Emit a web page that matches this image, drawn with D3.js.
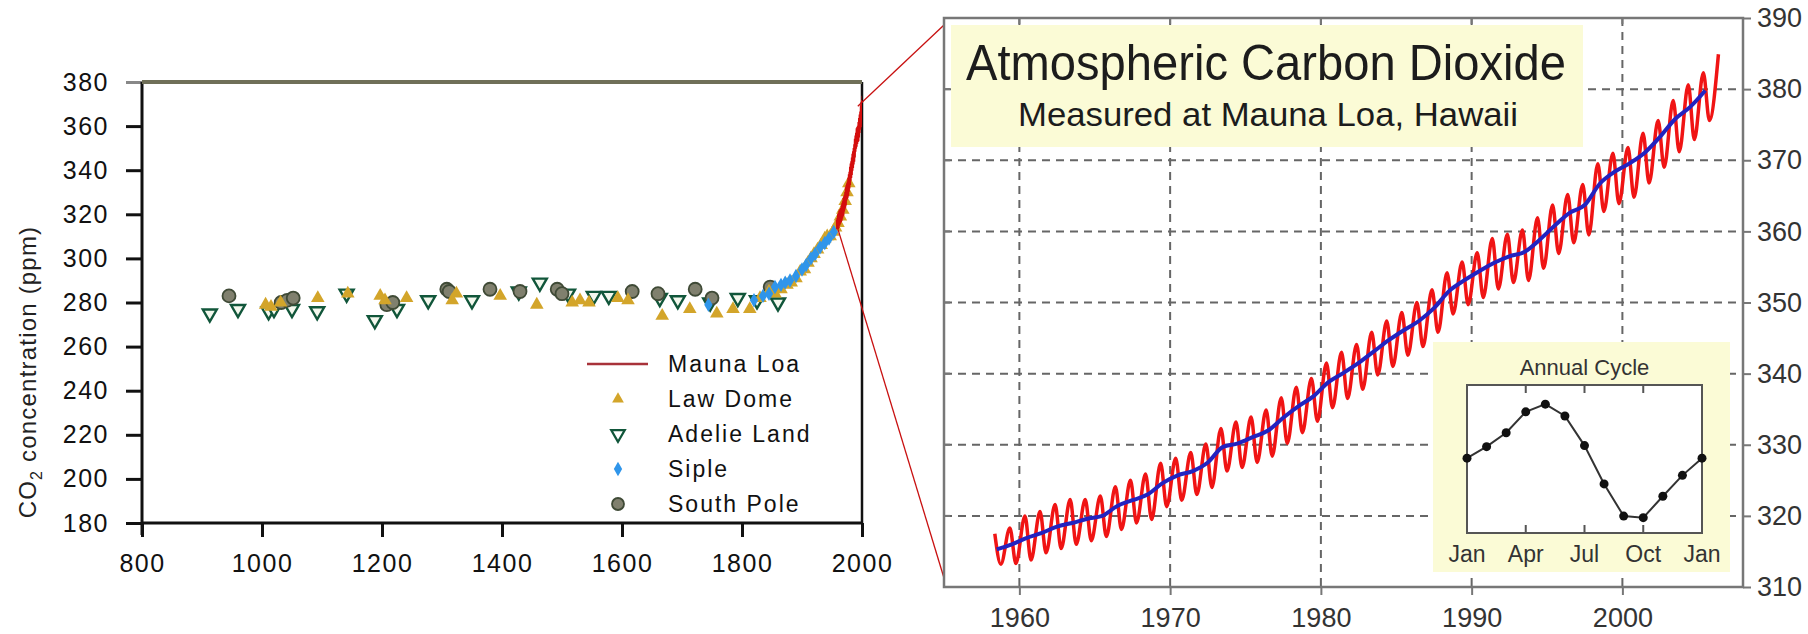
<!DOCTYPE html>
<html lang="en">
<head>
<meta charset="UTF-8">
<title>Atmospheric Carbon Dioxide</title>
<style>
    body { margin: 0; background: #fff; }
    svg { display: block; }
    text { font-family: "Liberation Sans", Arial, sans-serif; }
</style>
</head>
<body>
<svg id="chart" width="1808" height="634"></svg>
<script src="https://d3js.org/d3.v7.min.js"></script>
<script>
// ---------- left panel: ice core records ----------
const leftXTicks = [800, 1000, 1200, 1400, 1600, 1800, 2000];
const leftYTicks = [180, 200, 220, 240, 260, 280, 300, 320, 340, 360, 380];
const legendNames = ["Mauna Loa", "Law Dome", "Adelie Land", "Siple", "South Pole"];

// [year, ppm]
const lawDome = [[1006,279],[1015,278],[1031,280],[1093,282],[1143,284],[1197,283],[1205,281],[1241,282],
    [1317,281],[1324,284],[1397,283],[1458,279],[1517,280],[1530,281],[1545,280],[1593,282],[1610,281],
    [1667,274],[1713,277],[1758,275],[1785,277],[1813,277],[1830,282],[1845,285],[1855,284],[1865,286],
    [1875,288],[1882,289],[1890,291],[1897,294],[1904,295],[1910,298],[1915,300],[1920,302],[1926,304],
    [1932,306],[1938,309],[1942,310],[1947,310],[1952,312],[1956,314],[1960,316],[1964,319],[1968,322],
    [1972,326],[1975,330],[1978,334]];
const adelieLand = [[913,275],[960,277],[1011,276],[1020,277],[1050,277],[1092,276],[1141,284],[1188,272],
    [1225,277],[1277,281],[1350,281],[1428,285],[1463,289],[1510,284],[1553,283],[1578,283],[1663,282],
    [1693,281],[1747,280],[1793,282],[1825,281],[1860,280]];
const siple = [[1744,279],[1820,281],[1835,283],[1845,284],[1855,287],[1865,288],[1872,289],[1880,290],
    [1890,292],[1900,295],[1907,297],[1915,300],[1922,302],[1930,305],[1938,307],[1945,309],[1953,312]];
const southPole = [[945,283],[1032,280],[1042,281],[1052,282],[1208,279],[1218,280],[1308,286],[1312,285],
    [1380,286],[1430,285],[1492,286],[1500,284],[1617,285],[1660,284],[1722,286],[1750,282],[1847,287]];

// ---------- right panel: Mauna Loa ----------
const rightXTicks = [1960, 1970, 1980, 1990, 2000];
const rightYTicks = [310, 320, 330, 340, 350, 360, 370, 380, 390];
const mloYears = [1958,1959,1960,1961,1962,1963,1964,1965,1966,1967,1968,1969,1970,1971,1972,1973,1974,
    1975,1976,1977,1978,1979,1980,1981,1982,1983,1984,1985,1986,1987,1988,1989,1990,1991,1992,1993,1994,
    1995,1996,1997,1998,1999,2000,2001,2002,2003,2004,2005,2006];
const annualMean = [315.3,316.0,316.9,317.6,318.5,319.0,319.6,320.0,321.4,322.2,323.0,324.6,
    325.7,326.3,327.5,329.7,330.2,331.1,332.0,333.8,335.4,336.8,
    338.8,340.1,341.5,343.1,344.7,346.1,347.4,349.2,351.6,353.1,
    354.4,355.6,356.5,357.1,358.8,360.8,362.6,363.7,366.7,368.4,
    369.6,371.1,373.3,375.8,377.5,379.8];
// spring maximum and autumn minimum of each year
const springPeak = [317.5,318.3,320.0,320.6,321.6,322.3,322.3,322.8,324.1,325.0,325.9,327.4,
    328.1,328.9,330.1,332.3,333.2,333.9,334.9,336.6,338.1,339.3,
    341.5,343.0,344.1,345.8,347.4,348.6,350.0,351.8,354.2,355.7,
    357.0,359.0,359.6,360.2,361.9,363.7,365.2,366.6,369.5,371.0,
    371.8,373.8,375.6,378.4,380.6,382.3,384.9];
const autumnLow = [313.2,313.3,313.8,314.8,315.4,316.0,316.5,317.1,318.1,319.0,319.5,321.3,
    322.2,323.0,324.0,326.3,326.8,327.5,328.4,330.2,331.7,333.3,
    335.2,336.5,337.8,339.8,341.0,342.6,343.8,345.8,348.4,349.7,
    350.7,351.9,352.8,353.1,354.8,356.9,358.4,359.5,362.8,363.9,
    364.8,366.8,369.0,371.2,372.9,375.6];

// inset: annual cycle (ppm relative to the yearly mean)
const cycleLabels = ["Jan", "Apr", "Jul", "Oct", "Jan"];
const cycleValues = [0, 0.66, 1.46, 2.66, 3.10, 2.42, 0.72, -1.48, -3.33, -3.42, -2.19, -0.99, 0];

// ends of the zoom connector on the left record
const zoomFrom = [[1958, 315], [1993, 369]];

const svg = d3.select("#chart");

// ======================= LEFT PANEL =======================
const xL = d3.scaleLinear().domain([800, 2000]).range([142, 862]);
const yL = d3.scaleLinear().domain([180, 380]).range([523, 82]);
const left = svg.append("g");

left.append("clipPath").attr("id", "clipL")
    .append("rect").attr("x", xL(800)).attr("y", 40)
    .attr("width", xL(2000) - xL(800)).attr("height", yL(180) - 40);

// axes
const yAxisL = left.append("g").attr("transform", `translate(${xL(800)},0)`)
    .call(d3.axisLeft(yL).tickValues(leftYTicks).tickSize(16).tickPadding(17).tickSizeOuter(0));
const xAxisL = left.append("g").attr("transform", `translate(0,${yL(180)})`)
    .call(d3.axisBottom(xL).tickValues(leftXTicks).tickFormat(d3.format("d"))
        .tickSize(14).tickPadding(17).tickSizeOuter(0));
[yAxisL, xAxisL].forEach(a => {
    a.select(".domain").remove();
    a.selectAll(".tick line").attr("stroke", "#111").attr("stroke-width", 3);
    a.selectAll(".tick text").attr("font-size", 25).attr("fill", "#111")
        .attr("letter-spacing", 1.5).attr("font-family", "Liberation Sans, Arial, sans-serif");
});
yAxisL.selectAll(".tick").filter(d => d === 380).select("line").attr("stroke", "#888");

left.append("line").attr("x1", xL(800)).attr("x2", xL(800))
    .attr("y1", yL(380)).attr("y2", yL(180) + 12).attr("stroke", "#111").attr("stroke-width", 3);
left.append("line").attr("x1", xL(800)).attr("x2", xL(2000))
    .attr("y1", yL(180)).attr("y2", yL(180)).attr("stroke", "#111").attr("stroke-width", 3);
left.append("line").attr("x1", xL(2000)).attr("x2", xL(2000))
    .attr("y1", yL(380)).attr("y2", yL(180)).attr("stroke", "#111").attr("stroke-width", 2.5);
left.append("line").attr("x1", xL(800)).attr("x2", xL(2000))
    .attr("y1", yL(380)).attr("y2", yL(380)).attr("stroke", "#6f6f58").attr("stroke-width", 4);

// y title
const yt = left.append("text")
    .attr("transform", "translate(36,372) rotate(-90)")
    .attr("text-anchor", "middle").attr("font-size", 24).attr("fill", "#222")
    .attr("letter-spacing", 1.2);
yt.append("tspan").text("CO");
yt.append("tspan").text("2").attr("font-size", 16).attr("dy", 6);
yt.append("tspan").text(" concentration (ppm)").attr("dy", -6);

// ice core markers
const pts = left.append("g").attr("clip-path", "url(#clipL)");
const triUp = d3.symbol(d3.symbolTriangle, 80);
const diamond = d3.symbol(d3.symbolDiamond, 60);

pts.selectAll(".adelie").data(adelieLand).join("path")
    .attr("d", d3.symbol(d3.symbolTriangle, 85))
    .attr("transform", d => `translate(${xL(d[0])},${yL(d[1])}) rotate(180)`)
    .attr("fill", "#f4f8ee").attr("stroke", "#11563a").attr("stroke-width", 2.4);
pts.selectAll(".sp").data(southPole).join("circle")
    .attr("cx", d => xL(d[0])).attr("cy", d => yL(d[1])).attr("r", 6.5)
    .attr("fill", "#80806e").attr("stroke", "#3f4a36").attr("stroke-width", 1.8);
pts.selectAll(".law").data(lawDome).join("path")
    .attr("d", triUp)
    .attr("transform", d => `translate(${xL(d[0])},${yL(d[1])})`)
    .attr("fill", "#d3a52a");
pts.selectAll(".siple").data(siple).join("path")
    .attr("d", diamond)
    .attr("transform", d => `translate(${xL(d[0])},${yL(d[1])})`)
    .attr("fill", "#2f95ea");

// Mauna Loa zig-zag: spring maximum and autumn minimum of each year
const mloPts = [];
mloYears.forEach((y, i) => {
    mloPts.push([y + 0.37, springPeak[i]]);
    if (i < autumnLow.length) mloPts.push([y + 0.77, autumnLow[i]]);
});

pts.append("path").datum(mloPts)
    .attr("fill", "none").attr("stroke", "#d40d0d").attr("stroke-width", 2.4)
    .attr("d", d3.line().x(d => xL(d[0])).y(d => yL(d[1])));

// legend
const lg = left.append("g");
const lgX = 618, lgY0 = 364, lgStep = 35;
lg.append("line").attr("x1", lgX - 31).attr("x2", lgX + 30)
    .attr("y1", lgY0).attr("y2", lgY0).attr("stroke", "#a8323a").attr("stroke-width", 2.5);
lg.append("path").attr("d", d3.symbol(d3.symbolTriangle, 60))
    .attr("transform", `translate(${lgX},${lgY0 + lgStep})`).attr("fill", "#d3a52a");
lg.append("path").attr("d", d3.symbol(d3.symbolTriangle, 80))
    .attr("transform", `translate(${lgX},${lgY0 + 2 * lgStep}) rotate(180)`)
    .attr("fill", "#fff").attr("stroke", "#11563a").attr("stroke-width", 2.2);
lg.append("path").attr("d", d3.symbol(d3.symbolDiamond, 60))
    .attr("transform", `translate(${lgX},${lgY0 + 3 * lgStep})`).attr("fill", "#2f95ea");
lg.append("circle").attr("cx", lgX).attr("cy", lgY0 + 4 * lgStep).attr("r", 6)
    .attr("fill", "#80806e").attr("stroke", "#3f4a36").attr("stroke-width", 1.8);
lg.selectAll(".lt").data(legendNames).join("text")
    .attr("x", lgX + 50).attr("y", (d, i) => lgY0 + i * lgStep + 8)
    .attr("font-size", 23).attr("letter-spacing", 2).attr("fill", "#111")
    .text(d => d);

// ======================= RIGHT PANEL =======================
const xR = d3.scaleLinear().domain([1955, 2008]).range([944, 1743]);
const yR = d3.scaleLinear().domain([310, 390]).range([587, 18]);
const right = svg.append("g");

// connectors from the left record to the zoomed panel
right.selectAll(".conn").data(zoomFrom).join("line")
    .attr("x1", d => xL(d[0])).attr("y1", d => yL(d[1]))
    .attr("x2", xR(1955))
    .attr("y2", (d, i) => i === 0 ? yR(310) - 9 : yR(390) + 7)
    .attr("stroke", "#c81010").attr("stroke-width", 1.3);

// grid
right.selectAll(".gx").data(rightXTicks).join("line")
    .attr("x1", d => xR(d)).attr("x2", d => xR(d)).attr("y1", yR(390)).attr("y2", yR(310))
    .attr("stroke", "#666").attr("stroke-width", 2).attr("stroke-dasharray", "8,6");
right.selectAll(".gy").data(rightYTicks.slice(1, -1)).join("line")
    .attr("x1", xR(1955)).attr("x2", xR(2008)).attr("y1", d => yR(d)).attr("y2", d => yR(d))
    .attr("stroke", "#666").attr("stroke-width", 2).attr("stroke-dasharray", "8,6");

// title box
right.append("rect").attr("x", 951).attr("y", 25).attr("width", 632).attr("height", 122)
    .attr("fill", "#fbfbd6");
right.append("text").attr("x", 1266).attr("y", 80).attr("text-anchor", "middle")
    .attr("font-family", "Open Sans, Noto Sans, sans-serif").attr("font-size", 50).attr("fill", "#1c1c1c")
    .attr("textLength", 600).attr("lengthAdjust", "spacingAndGlyphs")
    .text("Atmospheric Carbon Dioxide");
right.append("text").attr("x", 1268).attr("y", 126).attr("text-anchor", "middle")
    .attr("font-family", "Open Sans, Noto Sans, sans-serif").attr("font-size", 34).attr("fill", "#1c1c1c")
    .attr("textLength", 500).attr("lengthAdjust", "spacingAndGlyphs")
    .text("Measured at Mauna Loa, Hawaii");

// series
right.append("path").datum(mloPts)
    .attr("fill", "none").attr("stroke", "#f01414").attr("stroke-width", 3.5)
    .attr("d", d3.line().curve(d3.curveMonotoneX).x(d => xR(d[0])).y(d => yR(d[1])));
right.append("path").datum(annualMean.map((v, i) => [mloYears[i] + 0.5, v]))
    .attr("fill", "none").attr("stroke", "#2323c0").attr("stroke-width", 4)
    .attr("d", d3.line().curve(d3.curveMonotoneX).x(d => xR(d[0])).y(d => yR(d[1])));

// inset
const xI = d3.scaleLinear().domain([0, 12]).range([1467, 1702]);
const yI = d3.scaleLinear().domain([-4.3, 4.2]).range([533, 385]);
const inset = right.append("g");
inset.append("rect").attr("x", 1433).attr("y", 342).attr("width", 297).attr("height", 230)
    .attr("fill", "#fbfbd6");
inset.append("text").attr("x", (xI(0) + xI(12)) / 2).attr("y", 375).attr("text-anchor", "middle")
    .attr("font-size", 22).attr("fill", "#333").text("Annual Cycle");
inset.append("rect").attr("x", xI(0)).attr("y", yI(4.2))
    .attr("width", xI(12) - xI(0)).attr("height", yI(-4.3) - yI(4.2))
    .attr("fill", "#fff").attr("stroke", "#555").attr("stroke-width", 2);
[3, 6, 9].forEach(m => {
    inset.append("line").attr("x1", xI(m)).attr("x2", xI(m))
        .attr("y1", yI(-4.3)).attr("y2", yI(-4.3) - 8).attr("stroke", "#555").attr("stroke-width", 2);
    inset.append("line").attr("x1", xI(m)).attr("x2", xI(m))
        .attr("y1", yI(4.2)).attr("y2", yI(4.2) + 8).attr("stroke", "#555").attr("stroke-width", 2);
});
inset.selectAll(".ml").data(cycleLabels).join("text")
    .attr("x", (d, i) => xI(i * 3)).attr("y", 562).attr("text-anchor", "middle")
    .attr("font-size", 23).attr("fill", "#333").text(d => d);
inset.append("path").datum(cycleValues)
    .attr("fill", "none").attr("stroke", "#333").attr("stroke-width", 2)
    .attr("d", d3.line().x((d, i) => xI(i)).y(d => yI(d)));
inset.selectAll(".cd").data(cycleValues).join("circle")
    .attr("cx", (d, i) => xI(i)).attr("cy", d => yI(d)).attr("r", 4.5).attr("fill", "#111");

// frame + small inner ticks
right.append("rect").attr("x", xR(1955)).attr("y", yR(390))
    .attr("width", xR(2008) - xR(1955)).attr("height", yR(310) - yR(390))
    .attr("fill", "none").attr("stroke", "#777").attr("stroke-width", 2.5);
right.selectAll(".tt").data(rightXTicks).join("line")
    .attr("x1", d => xR(d)).attr("x2", d => xR(d)).attr("y1", yR(390)).attr("y2", yR(390) + 6)
    .attr("stroke", "#777").attr("stroke-width", 2);
right.selectAll(".lt2").data(rightYTicks.slice(1, -1)).join("line")
    .attr("x1", xR(1955)).attr("x2", xR(1955) + 6).attr("y1", d => yR(d)).attr("y2", d => yR(d))
    .attr("stroke", "#777").attr("stroke-width", 2);

// axes
const xAxisR = right.append("g").attr("transform", `translate(0,${yR(310)})`)
    .call(d3.axisBottom(xR).tickValues(rightXTicks).tickFormat(d3.format("d")).tickSize(8).tickPadding(13).tickSizeOuter(0));
const yAxisR = right.append("g").attr("transform", `translate(${xR(2008)},0)`)
    .call(d3.axisRight(yR).tickValues(rightYTicks).tickSize(8).tickPadding(6).tickSizeOuter(0));
[xAxisR, yAxisR].forEach(a => {
    a.select(".domain").remove();
    a.selectAll(".tick line").attr("stroke", "#777").attr("stroke-width", 2);
    a.selectAll(".tick text").attr("font-size", 27).attr("fill", "#333")
        .attr("font-family", "Liberation Sans, Arial, sans-serif");
});
</script>
</body>
</html>
